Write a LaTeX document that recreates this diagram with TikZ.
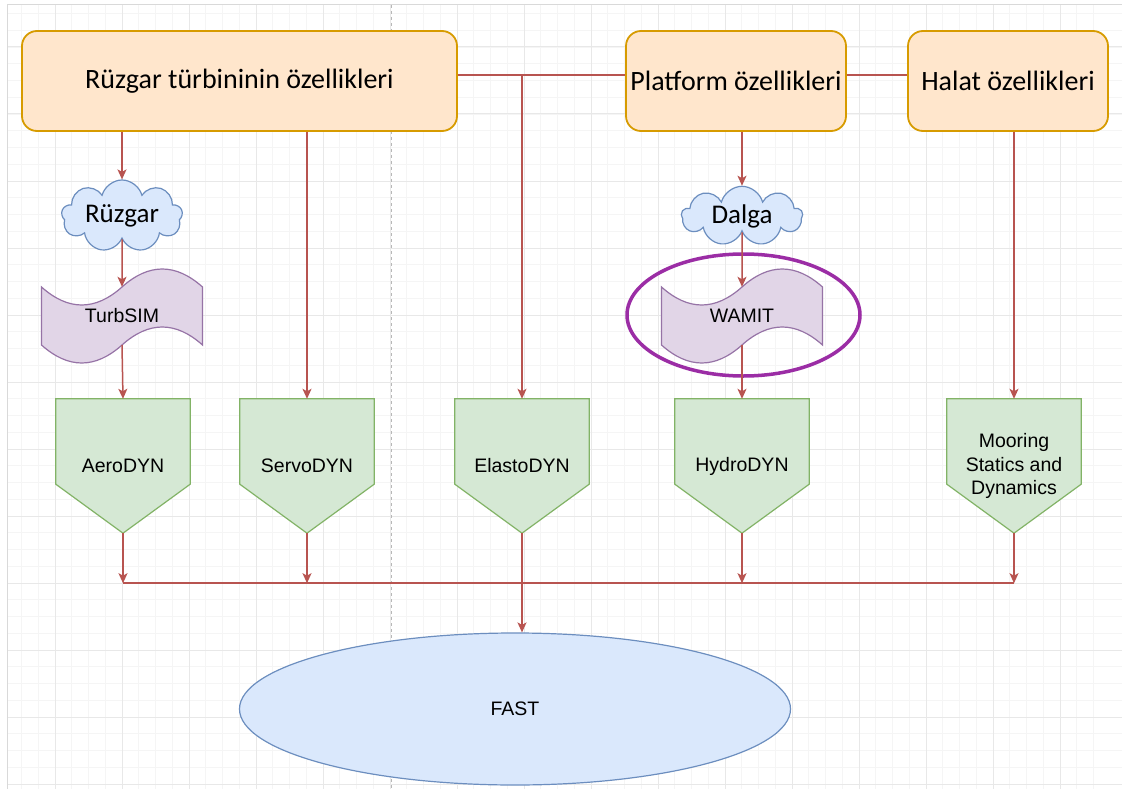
\documentclass[tikz,border=0pt]{standalone}
\usepackage{fontspec}
\setmainfont{Carlito}
\newfontfamily\arialfont{Liberation Sans}
\usetikzlibrary{shapes.geometric,shapes.symbols,arrows.meta}
\pgfdeclarelayer{bg}
\pgfsetlayers{bg,main}
\begin{document}
\begin{tikzpicture}[x=1pt,y=-1pt,
  link/.style={draw=linkred, line width=1.5pt},
  arr/.style={link, -{Stealth[length=10pt,width=9pt,inset=2.5pt]}},
  propbox/.style={rectangle, rounded corners=15pt, draw=boxline, fill=boxfill, line width=1.8pt, inner sep=2pt, minimum height=100pt, font=\fontsize{28}{33}\selectfont},
  wx/.style={cloud, cloud puffs=9, aspect=2.2, draw=cloudline, fill=cloudfill, line width=1.2pt, minimum width=121pt, minimum height=57pt, inner sep=0pt, font=\fontsize{27}{32}\selectfont},
  tapetext/.style={rectangle, minimum width=161pt, minimum height=58pt, inner sep=0pt, font=\arialfont\fontsize{19.5}{23}\selectfont},
  module/.style={rectangle, minimum width=134pt, minimum height=134pt, inner sep=0pt, align=center, font=\arialfont\fontsize{19.5}{23.5}\selectfont},
  gridminor/.style={draw=black!4, line width=0.8pt},
  gridmajor/.style={draw=black!9, line width=1pt},
]
\definecolor{linkred}{HTML}{B85450}
\definecolor{boxline}{HTML}{D79B00}
\definecolor{boxfill}{HTML}{FFE6CC}
\definecolor{cloudline}{HTML}{6C8EBF}
\definecolor{cloudfill}{HTML}{DAE8FC}
\definecolor{tapeline}{HTML}{9673A6}
\definecolor{tapefill}{HTML}{E1D5E7}
\definecolor{modline}{HTML}{82B366}
\definecolor{modfill}{HTML}{D5E8D4}
\definecolor{ringpurple}{RGB}{155,45,165}
\useasboundingbox (0,0) rectangle (1122,789);
\begin{pgfonlayer}{bg}
\fill[white] (0,0) rectangle (1122,789);
\foreach \k in {1,...,65} \draw[gridminor] (4.75+16.75*\k,5) -- (4.75+16.75*\k,789);
\foreach \k in {0,...,46} \draw[gridminor] (7,13.5+16.75*\k) -- (1122,13.5+16.75*\k);
\foreach \k in {0,...,15} \draw[gridmajor] (55+67*\k,5) -- (55+67*\k,789);
\foreach \k in {0,...,11} \draw[gridmajor] (7,47+67*\k) -- (1122,47+67*\k);
\draw[black!15, line width=1pt] (7,789) -- (7,5) -- (1122,5);
\draw[black!28, dashed, line width=0.8pt] (391,5) -- (391,789);
\end{pgfonlayer}
\node[propbox, minimum width=435pt] (rbox) at (239.5,81) {Rüzgar türbininin özellikleri};
\node[propbox, minimum width=220pt] (pbox) at (736,81) {Platform özellikleri};
\node[propbox, minimum width=200pt] (hbox) at (1008,81) {Halat özellikleri};
\node[wx] (wind) at (122,216) {Rüzgar};
\node[wx] (wave) at (742,216) {Dalga};
\node[tapetext] (tsim) at (122,316) {TurbSIM};
\node[tapetext] (wamit) at (742,316) {WAMIT};
\node[ellipse, draw=ringpurple, line width=3.5pt, minimum width=233pt, minimum height=122pt] (ring) at (743.5,315) {};
\node[module] (aero) at (123,466) {AeroDYN};
\node[module] (servo) at (307,466) {ServoDYN};
\node[module] (elasto) at (522,466) {ElastoDYN};
\node[module] (hydro) at (742,466) {HydroDYN};
\node[module] (moor) at (1014,466) {Mooring\\Statics and\\Dynamics};
\node[ellipse, draw=cloudline, fill=cloudfill, line width=1.2pt, minimum width=551pt, minimum height=152pt, font=\arialfont\fontsize{19.5}{23}\selectfont] (fast) at (515,709) {FAST};
\begin{pgfonlayer}{bg}
\foreach \n in {tsim,wamit} {
  \begin{scope}[shift={(\n.center)}]
  \draw[draw=tapeline, fill=tapefill, line width=1.2pt] (-80.5,-29) .. controls (-53.67,-5) and (-26.83,-5) .. (0,-29) .. controls (26.83,-53) and (53.67,-53) .. (80.5,-29) -- (80.5,29) .. controls (53.67,5) and (26.83,5) .. (0,29) .. controls (-26.83,53) and (-53.67,53) .. (-80.5,29) -- cycle;
  \end{scope}
}
\foreach \n in {aero,servo,elasto,hydro,moor} \draw[draw=modline, fill=modfill, line width=1.2pt] (\n.north west) -- (\n.north east) -- ([yshift=49pt]\n.south east) -- (\n.south) -- ([yshift=49pt]\n.south west) -- cycle;
\end{pgfonlayer}
\coordinate (split) at ([yshift=6pt]rbox.east);
\draw[link] (split) -- ([yshift=6pt]pbox.west);
\draw[link] ([yshift=6pt]pbox.east) -- ([yshift=6pt]hbox.west);
\draw[arr] (split -| elasto.north) -- (elasto.north);
\draw[arr] (rbox.south -| wind.north) -- (wind.north);
\draw[arr] (rbox.south -| servo.north) -- (servo.north);
\draw[arr] (wind.south) -- (tsim.north);
\draw[arr] (tsim.south) -- (aero.north);
\draw[arr] (pbox.south -| wave.north) -- (wave.north);
\draw[arr] (wave.south) -- (wamit.north);
\draw[arr] (wamit.south) -- (hydro.north);
\draw[arr] (hbox.south -| moor.north) -- (moor.north);
\coordinate (bus) at ([yshift=-50pt]aero.south);
\draw[link] (bus) -- (bus -| moor.south);
\foreach \n in {aero,servo,hydro,moor} \draw[arr] (\n.south) -- (\n.south |- bus);
\draw[arr] (elasto.south) -- (fast.north -| elasto.south);
\end{tikzpicture}
\end{document}
